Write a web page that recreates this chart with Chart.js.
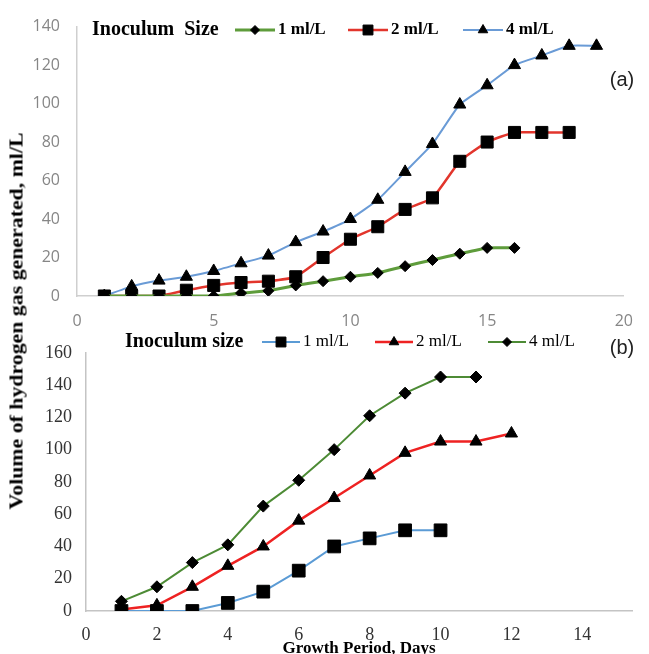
<!DOCTYPE html>
<html>
<head>
<meta charset="utf-8">
<script src="https://cdn.jsdelivr.net/npm/chart.js@4.4.1/dist/chart.umd.min.js"></script>
<style>
  body { margin: 0; background: #fff; width: 649px; height: 654px; position: relative; overflow: hidden; }
  .wrap { position: absolute; left: 0; width: 649px; }
  #wrapA { top: 0; height: 330px; }
  #wrapB { top: 328px; height: 329px; }
  #ytitle {
    position: absolute; left: 17px; top: 321px;
    font: bold 18px "Liberation Serif", serif; white-space: nowrap; color: #000;
  }
</style>
</head>
<body>
<div class="wrap" id="wrapA"><canvas id="chartA" width="649" height="330"></canvas></div>
<div class="wrap" id="wrapB"><canvas id="chartB" width="649" height="329"></canvas></div>
<div id="ytitle">Volume of hydrogen gas generated, ml/L</div>

<script>
// ---- data (a) ----
const daysA1 = [1, 2, 3, 4, 5, 6, 7, 8, 9, 10, 11, 12, 13, 14, 15, 16];
const volA1  = [0, 0, 0, 0, 0, 1.5, 2.7, 5.5, 7.7, 10, 12, 15.5, 18.7, 22, 25, 25];
const daysA2 = [1, 2, 3, 4, 5, 6, 7, 8, 9, 10, 11, 12, 13, 14, 15, 16, 17, 18];
const volA2  = [0, 0, 0, 3, 5.5, 7, 7.7, 10, 20, 29.5, 36, 45, 51, 70, 80, 85, 85, 85];
const daysA4 = [1, 2, 3, 4, 5, 6, 7, 8, 9, 10, 11, 12, 13, 14, 15, 16, 17, 18, 19];
const volA4  = [0, 5, 8, 10, 13, 17, 21, 28, 33.5, 40, 50, 64.5, 79, 99.5, 109.5, 120, 125, 130, 130];

// ---- data (b) ----
const daysB1 = [1, 2, 3, 4, 5, 6, 7, 8, 9, 10];
const volB1  = [0, 0, 0, 5, 12, 25, 40, 45, 50, 50];
const daysB2 = [1, 2, 3, 4, 5, 6, 7, 8, 9, 10, 11, 12];
const volB2  = [1, 3.5, 15, 28, 40, 56, 70, 84, 98, 105, 105, 110];
const daysB4 = [1, 2, 3, 4, 5, 6, 7, 8, 9, 10, 11];
const volB4  = [6, 15, 30, 41, 65, 81, 100, 121, 135, 145, 145];

const seriesLabels = ['1 ml/L', '2 ml/L', '4 ml/L'];

function pts(xs, ys) {
  return xs.map((x, i) => ({ x: x, y: ys[i] }));
}

// legend drawn inline: heading, then line-marker-line items
const inlineLegend = {
  id: 'inlineLegend',
  afterDraw(chart, args, opts) {
    const ctx = chart.ctx;
    ctx.save();
    ctx.textBaseline = 'middle';
    ctx.textAlign = 'left';
    ctx.fillStyle = '#000';
    ctx.font = opts.headFont;
    ctx.fillText(opts.head, opts.headX, opts.y);

    chart.data.datasets.forEach((ds, i) => {
      const x0 = opts.xs[i];
      const w = opts.lineW;
      ctx.strokeStyle = ds.borderColor;
      ctx.lineWidth = ds.borderWidth;
      ctx.beginPath();
      ctx.moveTo(x0, opts.y);
      ctx.lineTo(x0 + w, opts.y);
      ctx.stroke();
      ctx.fillStyle = '#000';
      ctx.strokeStyle = '#000';
      ctx.lineWidth = 1;
      Chart.helpers.drawPoint(ctx, {
        pointStyle: ds.pointStyle, radius: opts.markR[i], borderWidth: 1, rotation: 0
      }, x0 + w / 2, opts.y);
      ctx.fillStyle = '#000';
      ctx.font = opts.itemFont;
      ctx.fillText(ds.label, x0 + w + 3, opts.y);
    });

    ctx.font = opts.tagFont;
    ctx.fillStyle = '#222';
    ctx.textAlign = 'center';
    ctx.fillText(opts.tag, opts.tagX, opts.tagY);
    ctx.restore();
  }
};

const markerStyle = { pointBackgroundColor: '#000', pointBorderColor: '#000', pointBorderWidth: 1 };

// ---- chart (a) ----
new Chart(document.getElementById('chartA'), {
  type: 'line',
  data: {
    datasets: [
      { label: seriesLabels[0], data: pts(daysA1, volA1), borderColor: '#5e9c3b', borderWidth: 3,
        pointStyle: 'rectRot', pointRadius: 5.5, tension: 0.15, ...markerStyle },
      { label: seriesLabels[1], data: pts(daysA2, volA2), borderColor: '#e2352c', borderWidth: 2.5,
        pointStyle: 'rect', pointRadius: 8.5, tension: 0.15, ...markerStyle },
      { label: seriesLabels[2], data: pts(daysA4, volA4), borderColor: '#6a9bd6', borderWidth: 2,
        pointStyle: 'triangle', pointRadius: 7, tension: 0.15, ...markerStyle }
    ]
  },
  options: {
    responsive: false,
    animation: false,
    layout: { padding: { top: 22, right: 9, left: 0, bottom: 0 } },
    plugins: {
      legend: { display: false },
      tooltip: { enabled: false },
      inlineLegend: {
        head: 'Inoculum  Size', headX: 92, y: 30,
        headFont: 'bold 20px "Liberation Serif"',
        itemFont: 'bold 17px "Liberation Serif"',
        xs: [235, 348, 463], lineW: 40, markR: [4.5, 7, 5.5],
        tag: '(a)', tagX: 622, tagY: 80, tagFont: '20px "Liberation Sans"'
      }
    },
    scales: {
      x: {
        type: 'linear', min: 0, max: 20,
        afterFit(s) { s.height = 34; },
        grid: { display: false, drawTicks: false },
        border: { display: true, color: '#cfcfcf', width: 1.5 },
        ticks: { stepSize: 5, padding: 16, color: '#868686', font: { family: 'Open Sans', size: 16 } }
      },
      y: {
        min: 0, max: 140,
        afterFit(s) { s.width = 77; },
        grid: { display: false, drawTicks: false },
        border: { display: true, color: '#cfcfcf', width: 1.5 },
        ticks: { stepSize: 20, padding: 17, color: '#868686', font: { family: 'Open Sans', size: 16 } }
      }
    }
  },
  plugins: [inlineLegend]
});

// ---- chart (b) ----
new Chart(document.getElementById('chartB'), {
  type: 'line',
  data: {
    datasets: [
      { label: seriesLabels[0], data: pts(daysB1, volB1), borderColor: '#5b9bd5', borderWidth: 2,
        pointStyle: 'rect', pointRadius: 9, ...markerStyle },
      { label: seriesLabels[1], data: pts(daysB2, volB2), borderColor: '#ee2222', borderWidth: 2.5,
        pointStyle: 'triangle', pointRadius: 7, ...markerStyle },
      { label: seriesLabels[2], data: pts(daysB4, volB4), borderColor: '#4d8b35', borderWidth: 2,
        pointStyle: 'rectRot', pointRadius: 6, ...markerStyle }
    ]
  },
  options: {
    responsive: false,
    animation: false,
    layout: { padding: { top: 19, right: 17, left: 0, bottom: 0 } },
    plugins: {
      legend: { display: false },
      tooltip: { enabled: false },
      inlineLegend: {
        head: 'Inoculum size', headX: 125, y: 14,
        headFont: 'bold 20px "Liberation Serif"',
        itemFont: '17px "Liberation Serif"',
        xs: [262, 375, 488], lineW: 38, markR: [7, 5.5, 4.5],
        tag: '(b)', tagX: 622, tagY: 20, tagFont: '20px "Liberation Sans"'
      }
    },
    scales: {
      x: {
        type: 'linear', min: 0, max: 15.4,
        afterFit(s) { s.height = 46; },
        grid: { display: false, drawTicks: false },
        border: { display: true, color: '#c4c4c4', width: 1.5 },
        ticks: { stepSize: 2, includeBounds: false, padding: 13, color: '#333',
                 font: { family: 'Liberation Serif', size: 18 } },
        title: { display: true, text: 'Growth Period, Days', color: '#000', padding: 0,
                 font: { family: 'Liberation Serif', size: 17, weight: 'bold', lineHeight: 1 } }
      },
      y: {
        min: 0, max: 160,
        afterFit(s) { s.width = 86; },
        grid: { display: false, drawTicks: false },
        border: { display: true, color: '#c4c4c4', width: 1.5 },
        ticks: { stepSize: 20, padding: 14, color: '#333', font: { family: 'Liberation Serif', size: 18 } }
      }
    }
  },
  plugins: [inlineLegend]
});

// stretch the shared y title to the reference length
const yt = document.getElementById('ytitle');
const sx = 377 / yt.offsetWidth;
yt.style.transform = 'translate(-50%, -50%) rotate(-90deg) scaleX(' + sx + ')';
</script>
</body>
</html>
